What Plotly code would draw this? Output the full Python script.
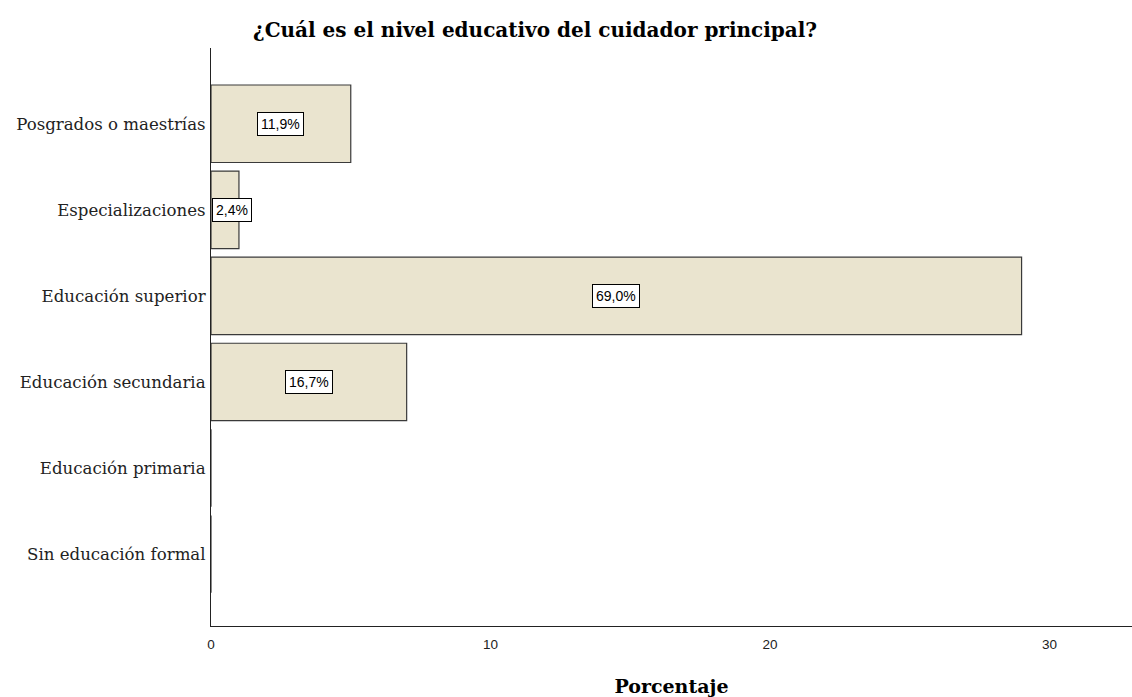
import plotly.graph_objects as go

categories = ["Sin educación formal", "Educación primaria", "Educación secundaria",
              "Educación superior", "Especializaciones", "Posgrados o maestrías"]
counts = [0, 0, 7, 29, 1, 5]
pct_labels = ["", "", "16,7%", "69,0%", "2,4%", "11,9%"]

title_text = "¿Cuál es el nivel educativo del cuidador principal?"
x_title = "Porcentaje"
x_ticks = [0, 10, 20, 30]

SERIF = "DejaVu Serif, Liberation Serif, serif"
SANS = "Liberation Sans, Arial, sans-serif"

fig = go.Figure()
fig.add_trace(go.Bar(
    y=categories, x=counts, orientation="h",
    marker=dict(color="#EAE4CF", line=dict(color="#3a3a3a", width=1.2)),
    width=0.9, hoverinfo="skip",
))

xmax = 32.95
plot_w = 1132 - 211
px_per_unit = plot_w / xmax
for cat, v, lab in zip(categories, counts, pct_labels):
    if not lab:
        continue
    center_px = v / 2 * px_per_unit
    kw = dict(y=cat, text=lab, showarrow=False,
              font=dict(family=SANS, size=14, color="black"),
              bgcolor="white", bordercolor="black", borderwidth=1, borderpad=3)
    if center_px < 26:
        fig.add_annotation(x=0, xanchor="left", xshift=1, **kw)
    else:
        fig.add_annotation(x=v / 2, **kw)

fig.update_layout(
    width=1132, height=697,
    margin=dict(l=211, r=0, t=48, b=71),
    paper_bgcolor="white", plot_bgcolor="white",
    showlegend=False,
    title=dict(text="<b>" + title_text + "</b>", x=535 / 1132, xanchor="center",
               y=1 - 30 / 697, yanchor="middle",
               font=dict(family=SERIF, size=20, color="black")),
    xaxis=dict(range=[0, xmax], tickvals=x_ticks, showgrid=False, zeroline=False,
               showline=True, linecolor="#222", linewidth=1.2,
               ticks="outside", ticklen=6, tickcolor="rgba(0,0,0,0)",
               tickfont=dict(family=SANS, size=13.5, color="#222"),
               title=dict(text="<b>" + x_title + "</b>", standoff=28,
                          font=dict(family=SERIF, size=19, color="black"))),
    yaxis=dict(categoryorder="array", categoryarray=categories, range=[-0.835, 5.88],
               showgrid=False, zeroline=False, showline=True, linecolor="#222", linewidth=1.2,
               ticks="outside", ticklen=1, tickcolor="rgba(0,0,0,0)",
               tickfont=dict(family=SERIF, size=16.6, color="#222")),
)

fig.write_html("out.html", config={"displayModeBar": False},
               post_script="document.body.style.margin='0px';document.body.style.overflow='hidden';")
